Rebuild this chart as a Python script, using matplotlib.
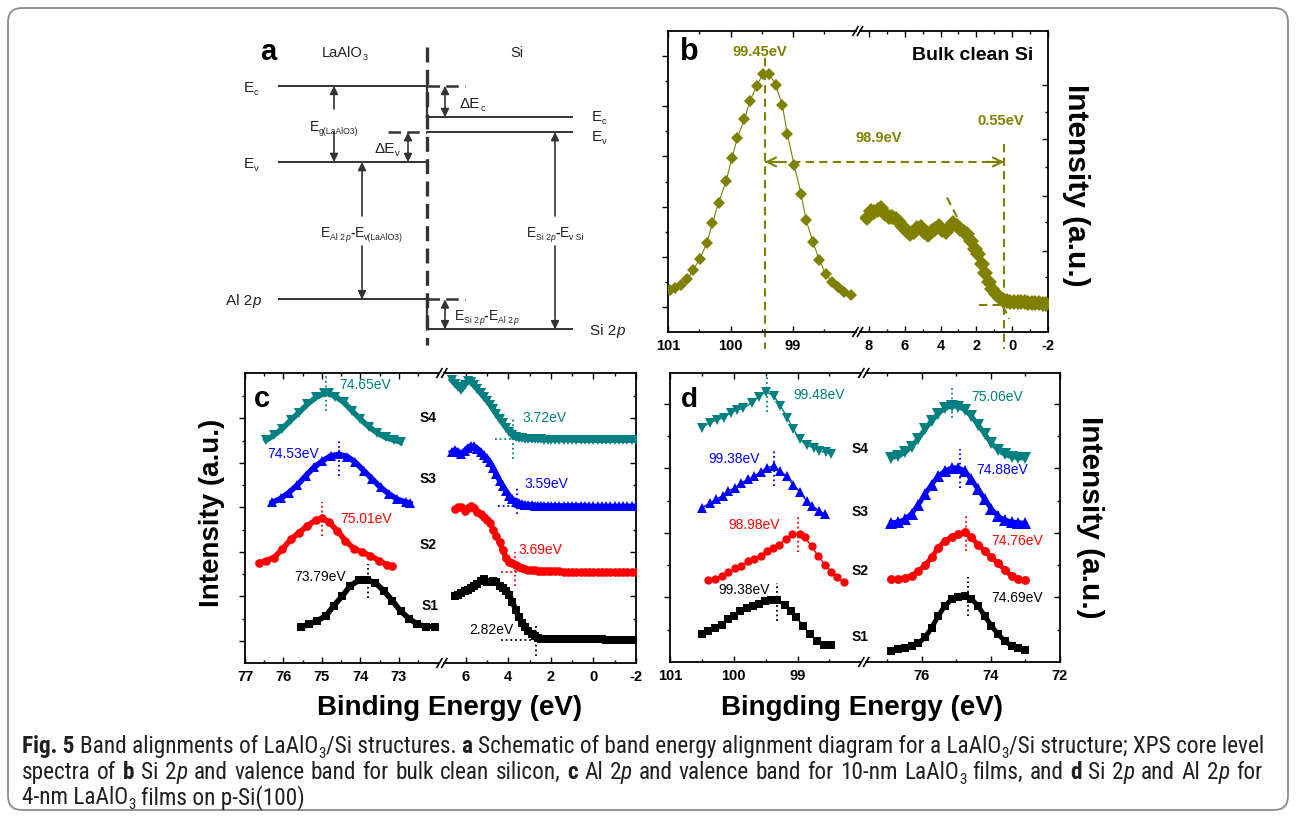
import matplotlib
matplotlib.use('Agg')
import matplotlib.pyplot as plt
from matplotlib.patches import FancyBboxPatch
from matplotlib.font_manager import FontProperties, findfont

W, H, DPI = 1296, 820, 100
plt.rcParams['font.family'] = ['Liberation Sans', 'DejaVu Sans']

# ---------------- samples ----------------
SAMPLES = ['S1', 'S2', 'S3', 'S4']
S_COLORS = ['#000000', '#ff0000', '#0000ff', '#008080']
S_MARKERS = ['s', 'o', '^', 'v']
OLIVE = '#808000'

# ---------------- panel b : bulk clean Si ----------------
B_SI2P_E = [100.97, 100.89, 100.80, 100.69, 100.60, 100.49, 100.38, 100.29, 100.19, 100.07,
            99.98, 99.89, 99.78, 99.69, 99.58, 99.48, 99.38, 99.28, 99.17, 99.09,
            98.98, 98.87, 98.79, 98.68, 98.58, 98.48, 98.37, 98.28, 98.19, 98.08]
B_SI2P_I = [0.83, 0.87, 0.93, 1.05, 1.23, 1.46, 1.77, 2.17, 2.58, 3.01,
            3.46, 3.87, 4.24, 4.60, 4.91, 5.15, 5.15, 4.93, 4.52, 3.94,
            3.32, 2.75, 2.23, 1.79, 1.44, 1.16, 0.99, 0.89, 0.79, 0.73]
B_VB_E = [8.1, 7.9, 7.7, 7.5, 7.3, 7.1, 6.9, 6.7, 6.5, 6.3, 6.1, 5.9, 5.7, 5.5, 5.3, 5.1, 4.9,
          4.7, 4.5, 4.3, 4.1, 3.9, 3.7, 3.5, 3.3, 3.1, 2.9, 2.7, 2.5, 2.3, 2.1, 1.9, 1.7, 1.5,
          1.3, 1.1, 0.9, 0.7, 0.5, 0.3, 0.1, -0.1, -0.3, -0.5, -0.7, -0.9, -1.1, -1.3, -1.5,
          -1.7, -1.9]
B_VB_I = [2.28, 2.42, 2.40, 2.44, 2.47, 2.35, 2.30, 2.30, 2.25, 2.20, 2.10, 2.02, 1.96, 2.00,
          2.07, 2.10, 2.00, 1.93, 2.02, 2.06, 2.12, 2.03, 1.99, 2.10, 2.18, 2.12, 2.06, 2.00,
          1.95, 1.82, 1.66, 1.55, 1.36, 1.17, 1.00, 0.86, 0.76, 0.68, 0.64, 0.61, 0.60, 0.60,
          0.59, 0.60, 0.59, 0.58, 0.58, 0.57, 0.57, 0.56, 0.56]
B_PEAK = 99.45
B_VBM_LINE = 0.45
B_ARROW_I = 3.39
B_BASE_I = 0.54

# ---------------- panel c : 10-nm LaAlO3 (Al 2p + valence band) ----------------
C_AL_E = [
    [75.55, 75.34, 75.12, 74.90, 74.69, 74.47, 74.26, 74.04, 73.82, 73.61, 73.39, 73.17, 72.96, 72.74, 72.52, 72.31, 72.06],
    [76.64, 76.46, 76.25, 76.03, 75.81, 75.60, 75.38, 75.16, 74.99, 74.82, 74.60, 74.39, 74.17, 73.95, 73.74, 73.52, 73.30, 73.17],
    [76.29, 76.07, 75.86, 75.64, 75.42, 75.21, 74.99, 74.77, 74.56, 74.34, 74.13, 73.91, 73.69, 73.48, 73.26, 73.04, 72.83, 72.72],
    [76.45, 76.25, 76.03, 75.81, 75.60, 75.38, 75.16, 74.95, 74.82, 74.65, 74.43, 74.22, 74.00, 73.78, 73.56, 73.35, 73.13, 72.96],
]
C_AL_I = [
    [0.31, 0.37, 0.45, 0.56, 0.79, 1.01, 1.24, 1.36, 1.37, 1.30, 1.12, 0.90, 0.67, 0.50, 0.37, 0.32, 0.31],
    [1.75, 1.80, 1.87, 2.06, 2.28, 2.43, 2.58, 2.72, 2.75, 2.67, 2.47, 2.25, 2.07, 1.99, 1.91, 1.80, 1.70, 1.67],
    [3.11, 3.20, 3.33, 3.50, 3.71, 3.90, 4.04, 4.16, 4.19, 4.14, 4.01, 3.82, 3.63, 3.45, 3.30, 3.18, 3.12, 3.09],
    [4.51, 4.62, 4.77, 4.96, 5.13, 5.32, 5.47, 5.56, 5.56, 5.49, 5.36, 5.17, 4.98, 4.81, 4.67, 4.57, 4.51, 4.47],
]
C_VB_E = [6.65, 6.5, 6.35, 6.2, 6.05, 5.9, 5.75, 5.6, 5.45, 5.3, 5.15, 5.0, 4.85, 4.7, 4.55, 4.4,
          4.25, 4.1, 3.95, 3.8, 3.65, 3.5, 3.35, 3.2, 3.05, 2.9, 2.75, 2.6, 2.45, 2.3, 2.15, 2.0,
          1.8, 1.6, 1.4, 1.2, 1.0, 0.8, 0.6, 0.4, 0.2, 0.0, -0.2, -0.4, -0.6, -0.8, -1.0, -1.2,
          -1.4, -1.6, -1.8, -2.0]
C_VB_I = [
    [1.01, 1.03, 1.07, 1.11, 1.15, 1.18, 1.22, 1.28, 1.35, 1.38, 1.33, 1.31, 1.34, 1.31, 1.24, 1.18,
     1.12, 1.04, 0.88, 0.69, 0.53, 0.41, 0.30, 0.21, 0.15, 0.10, 0.07, 0.05, 0.05, 0.04, 0.04,
     0.04, 0.04, 0.04, 0.04, 0.03, 0.03, 0.03, 0.03, 0.03, 0.03, 0.03, 0.03, 0.02, 0.02, 0.02,
     0.02, 0.02, 0.02, 0.02, 0.02],
    [2.96, 3.01, 3.00, 2.92, 2.99, 3.03, 2.98, 2.89, 2.86, 2.79, 2.72, 2.64, 2.50, 2.35, 2.21, 2.03,
     1.85, 1.77, 1.74, 1.71, 1.66, 1.63, 1.61, 1.60, 1.59, 1.58, 1.57, 1.57, 1.56, 1.56, 1.56,
     1.56, 1.56, 1.55, 1.55, 1.55, 1.55, 1.55, 1.55, 1.55, 1.55, 1.55, 1.55, 1.54, 1.54, 1.54,
     1.54, 1.54, 1.54, 1.54, 1.54],
    [4.24, 4.29, 4.25, 4.19, 4.27, 4.34, 4.38, 4.37, 4.32, 4.25, 4.18, 4.10, 4.01, 3.88, 3.74, 3.60,
     3.48, 3.36, 3.26, 3.18, 3.12, 3.09, 3.08, 3.06, 3.06, 3.05, 3.04, 3.04, 3.04, 3.03, 3.03, 3.03,
     3.03, 3.03, 3.03, 3.03, 3.03, 3.03, 3.03, 3.03, 3.02, 3.02, 3.02, 3.02, 3.02, 3.02, 3.02, 3.02,
     3.02, 3.02, 3.02, 3.02],
    [5.86, 5.78, 5.71, 5.64, 5.75, 5.84, 5.82, 5.74, 5.66, 5.57, 5.49, 5.40, 5.31, 5.20, 5.09, 4.99,
     4.89, 4.79, 4.70, 4.62, 4.57, 4.55, 4.55, 4.54, 4.54, 4.53, 4.53, 4.53, 4.53, 4.52, 4.52, 4.52,
     4.52, 4.52, 4.52, 4.52, 4.52, 4.51, 4.51, 4.51, 4.51, 4.51, 4.51, 4.51, 4.51, 4.51, 4.51, 4.51,
     4.51, 4.51, 4.51, 4.51],
]
C_AL_PEAK = [73.80, 75.01, 74.56, 74.89]
C_AL_PEAK_LABEL = ['73.79eV', '75.01eV', '74.53eV', '74.65eV']
C_VBM = [2.68, 3.70, 3.59, 3.77]
C_VBM_LABEL = ['2.82eV', '3.69eV', '3.59eV', '3.72eV']
C_VB_BASE = [0.02, 1.54, 3.03, 4.53]

# ---------------- panel d : 4-nm LaAlO3 (Si 2p + Al 2p) ----------------
D_SI_E = [
    [100.50, 100.40, 100.30, 100.19, 100.09, 100.00, 99.90, 99.80, 99.70, 99.61, 99.51, 99.42, 99.32, 99.20, 99.11, 99.02, 98.91, 98.81, 98.70, 98.59, 98.48],
    [100.40, 100.30, 100.19, 100.09, 99.98, 99.88, 99.77, 99.68, 99.58, 99.48, 99.38, 99.29, 99.18, 99.08, 98.97, 98.89, 98.78, 98.68, 98.57, 98.47, 98.38, 98.28],
    [100.50, 100.38, 100.28, 100.17, 100.09, 99.98, 99.88, 99.77, 99.68, 99.58, 99.48, 99.37, 99.28, 99.17, 99.07, 98.96, 98.86, 98.77, 98.66, 98.57],
    [100.50, 100.38, 100.27, 100.16, 100.05, 99.95, 99.85, 99.72, 99.61, 99.49, 99.37, 99.27, 99.16, 99.07, 98.96, 98.86, 98.75, 98.66, 98.56, 98.47],
]
D_SI_I = [
    [0.43, 0.48, 0.52, 0.58, 0.66, 0.72, 0.79, 0.83, 0.87, 0.90, 0.94, 0.96, 0.96, 0.88, 0.79, 0.69, 0.56, 0.43, 0.33, 0.27, 0.26],
    [1.27, 1.29, 1.34, 1.39, 1.45, 1.49, 1.56, 1.60, 1.65, 1.72, 1.76, 1.82, 1.91, 1.98, 1.99, 1.93, 1.80, 1.64, 1.51, 1.40, 1.31, 1.24],
    [2.39, 2.46, 2.52, 2.58, 2.65, 2.70, 2.78, 2.83, 2.88, 2.95, 3.01, 3.04, 2.96, 2.88, 2.75, 2.63, 2.50, 2.42, 2.34, 2.29],
    [3.63, 3.71, 3.75, 3.79, 3.86, 3.91, 3.93, 4.02, 4.11, 4.19, 4.12, 3.97, 3.79, 3.61, 3.45, 3.36, 3.32, 3.27, 3.25, 3.22],
]
D_AL_E = [76.87, 76.67, 76.48, 76.29, 76.10, 75.90, 75.71, 75.52, 75.33, 75.13, 74.94, 74.75,
          74.56, 74.37, 74.17, 73.98, 73.79, 73.60, 73.40, 73.21, 73.02]
D_AL_I = [
    [0.17, 0.20, 0.22, 0.25, 0.29, 0.38, 0.53, 0.71, 0.87, 0.97, 1.01, 1.02, 0.98, 0.87, 0.71, 0.56, 0.43, 0.33, 0.25, 0.21, 0.19],
    [1.28, 1.28, 1.30, 1.34, 1.41, 1.50, 1.62, 1.77, 1.88, 1.94, 1.98, 2.01, 1.93, 1.82, 1.72, 1.62, 1.53, 1.43, 1.33, 1.29, 1.27],
    [2.16, 2.17, 2.21, 2.30, 2.43, 2.60, 2.75, 2.88, 2.96, 3.01, 3.01, 2.96, 2.83, 2.68, 2.52, 2.37, 2.26, 2.20, 2.17, 2.16, 2.15],
    [3.17, 3.19, 3.25, 3.34, 3.46, 3.61, 3.74, 3.85, 3.93, 3.97, 3.96, 3.91, 3.81, 3.68, 3.53, 3.39, 3.29, 3.22, 3.18, 3.17, 3.16],
]
D_SI_PEAK = [99.32, 99.00, 99.37, 99.48]
D_SI_LABEL = ['99.38eV', '98.98eV', '99.38eV', '99.48eV']
D_AL_PEAK = [74.65, 74.73, 74.89, 75.11]
D_AL_LABEL = ['74.69eV', '74.76eV', '74.88eV', '75.06eV']

# ---------------- panel a : schematic levels (eV, schematic scale) ----------------
LAO_EC, LAO_EV, AL2P = 5.6, 0.0, -10.1
SI_EC, SI_EV, SI2P = 3.3, 2.2, -12.3

# ---------------- figure ----------------
fig = plt.figure(figsize=(W / DPI, H / DPI), dpi=DPI)
renderer = fig.canvas.get_renderer()


def px_axes(x0, y0, x1, y1, zorder=0):
    return fig.add_axes([x0 / W, 1 - y1 / H, (x1 - x0) / W, (y1 - y0) / H], zorder=zorder)


bg = px_axes(0, 0, W, H, zorder=-5)
bg.set_xlim(0, W); bg.set_ylim(H, 0); bg.axis('off')
ov = px_axes(0, 0, W, H, zorder=20)
ov.set_xlim(0, W); ov.set_ylim(H, 0); ov.axis('off')

bg.add_patch(FancyBboxPatch((8, 9), 1280, 802, boxstyle='round,pad=0,rounding_size=14',
                            fc='white', ec='#8a8a8a', lw=1.3))


def have_font(name):
    try:
        findfont(FontProperties(family=name), fallback_to_default=False)
        return True
    except Exception:
        return False


def tw(s, fp):
    if not s:
        return 0.0
    w1 = renderer.get_text_width_height_descent('a' + s + 'a', fp, ismath=False)[0]
    w0 = renderer.get_text_width_height_descent('aa', fp, ismath=False)[0]
    return w1 - w0


def rich(ax, x, y, segs, size, family, color, ha='left', draw=True, sub_scale=0.62,
         sub_drop=0.22, justify=None):
    def layout(extra):
        parts = []
        pos = 0.0
        nsp = 0
        for s, kind in segs:
            sub = 's' in kind
            fp = FontProperties(family=family, size=size * (sub_scale if sub else 1.0),
                                weight='bold' if 'b' in kind else 'normal',
                                style='italic' if 'i' in kind else 'normal')
            lead = len(s) - len(s.lstrip(' '))
            trail = len(s) - len(s.rstrip(' '))
            core = s.strip(' ')
            sp = tw(' ', fp) + extra
            inner = core.count(' ')
            nsp += lead + trail + inner
            pos += lead * sp
            parts.append((core, fp, pos, sub))
            pos += tw(core, fp) + inner * extra + trail * sp
        return parts, pos, nsp

    parts, pos, nsp = layout(0.0)
    if justify is not None and nsp > 0:
        extra = (justify - pos) / nsp
        parts, pos, nsp = layout(extra)
    else:
        extra = 0.0
    if not draw:
        return pos
    x0 = x - pos / 2 if ha == 'center' else (x - pos if ha == 'right' else x)
    for core, fp, off, sub in parts:
        dy = size * sub_drop * DPI / 72 if sub else 0
        if extra != 0.0 and ' ' in core:
            cx = x0 + off
            words = core.split(' ')
            for wi, wd in enumerate(words):
                ax.text(cx, y + dy, wd, fontproperties=fp, color=color, ha='left', va='baseline')
                cx += tw(wd, fp) + tw(' ', fp) + extra
        else:
            ax.text(x0 + off, y + dy, core, fontproperties=fp, color=color, ha='left', va='baseline')
    return pos


# ---------------- panel a ----------------
SCH_EV0 = 163.0
SCH_PX = 13.6


def e2py(e):
    return SCH_EV0 - e * SCH_PX


axa = px_axes(200, 30, 620, 350)
axa.set_xlim(200, 620)
axa.set_ylim((SCH_EV0 - 350) / SCH_PX, (SCH_EV0 - 30) / SCH_PX)
axa.axis('off')
LC = '#333333'
XL0, XIF, XR1, XSR, XSL = 278, 427, 573, 465, 388
for e in (LAO_EC, LAO_EV, AL2P):
    axa.plot([XL0, XIF], [e, e], color=LC, lw=1.4, solid_capstyle='butt')
for e in (SI_EC, SI_EV, SI2P):
    axa.plot([XIF, XR1], [e, e], color=LC, lw=1.4, solid_capstyle='butt')
for e in (LAO_EC, AL2P):
    axa.plot([XIF, XSR], [e, e], color=LC, lw=1.8, ls=(0, (5, 2.5)))
axa.plot([XSL, XIF], [SI_EV, SI_EV], color=LC, lw=1.8, ls=(0, (5, 2.5)))
axa.plot([XIF, XIF], [LAO_EC, SI_EC], color=LC, lw=1.6)
axa.plot([XIF, XIF], [AL2P, SI2P], color=LC, lw=1.6)
axa.plot([XIF, XIF], [(SCH_EV0 - 48) / SCH_PX, (SCH_EV0 - 346) / SCH_PX], color=LC, lw=2.4,
         ls=(0, (4.5, 2.2)))


def sch_arrow(x, e0, e1, style='-|>'):
    axa.annotate('', xy=(x, e1), xytext=(x, e0),
                 arrowprops=dict(arrowstyle=style, color=LC, lw=1.2, mutation_scale=12,
                                 shrinkA=0, shrinkB=0))


E_UP0 = (SCH_EV0 - 217) / SCH_PX
E_DN0 = (SCH_EV0 - 247) / SCH_PX
sch_arrow(334, 3.9, LAO_EC)
sch_arrow(334, 2.2, LAO_EV)
sch_arrow(445, SI_EC, LAO_EC, '<|-|>')
sch_arrow(408, LAO_EV, SI_EV, '<|-|>')
sch_arrow(362, E_UP0, LAO_EV)
sch_arrow(362, E_DN0, AL2P)
sch_arrow(555, E_UP0, SI_EV)
sch_arrow(555, E_DN0, SI2P)
sch_arrow(445, SI2P, AL2P, '<|-|>')

SF = 'Liberation Sans'
TC = '#222222'
ov.text(268, 60, 'a', fontsize=21, fontweight='bold', ha='center', va='baseline')
rich(ov, 345, 57, [('LaAlO', 'n'), ('3', 's')], 10.5, SF, TC, ha='center')
rich(ov, 517, 57, [('Si', 'n')], 10.5, SF, TC, ha='center')
rich(ov, 251, e2py(LAO_EC) + 5, [('E', 'n'), ('c', 's')], 11, SF, TC, ha='center')
rich(ov, 251, e2py(LAO_EV) + 5, [('E', 'n'), ('v', 's')], 11, SF, TC, ha='center')
rich(ov, 243, e2py(AL2P) + 5, [('Al 2', 'n'), ('p', 'i')], 11, SF, TC, ha='center')
rich(ov, 590, e2py(SI2P) + 5, [('Si 2', 'n'), ('p', 'i')], 11, SF, TC)
rich(ov, 592, e2py(SI_EC) + 3, [('E', 'n'), ('c', 's')], 11, SF, TC)
rich(ov, 592, e2py(SI_EV) + 8, [('E', 'n'), ('v', 's')], 11, SF, TC)
rich(ov, 334, 131, [('E', 'n'), ('g(LaAlO3)', 's')], 10, SF, TC, ha='center')
rich(ov, 460, 108, [('\u0394E', 'n'), ('c', 's')], 11, SF, TC)
rich(ov, 400, 153, [('\u0394E', 'n'), ('v', 's')], 11, SF, TC, ha='right')
rich(ov, 362, 237, [('E', 'n'), ('Al 2', 's'), ('p', 'si'), ('-', 'b'), ('E', 'n'), ('v(LaAlO3)', 's')],
     10, SF, TC, ha='center')
rich(ov, 555, 237, [('E', 'n'), ('Si 2', 's'), ('p', 'si'), ('-', 'b'), ('E', 'n'), ('v Si', 's')],
     10, SF, TC, ha='center')
rich(ov, 455, 320, [('E', 'n'), ('Si 2', 's'), ('p', 'si'), ('-', 'b'), ('E', 'n'), ('Al 2', 's'), ('p', 'si')],
     10, SF, TC)

TICK_FP = FontProperties(family='Liberation Sans', weight='bold', size=10.5)


# ---------------- broken-axis helpers ----------------
def setup_pair(axL, axR, xlimL, xlimR, ylim, xtL, xmL, xtR, xmR, ytL, ymL, ytR, ymR):
    for ax, xl, xt, xm in ((axL, xlimL, xtL, xmL), (axR, xlimR, xtR, xmR)):
        ax.patch.set_visible(False)
        ax.set_xlim(*xl)
        ax.set_ylim(*ylim)
        ax.set_xticks(xt)
        ax.set_xticks(xm, minor=True)
        ax.tick_params(axis='x', which='both', direction='in', top=True, bottom=True,
                       width=1.0, labelbottom=False)
        ax.tick_params(axis='x', which='major', length=4)
        ax.tick_params(axis='x', which='minor', length=2.2)
        for v in xt:
            ax.annotate(str(v), xy=(v, 0), xycoords=('data', 'axes fraction'),
                        xytext=(0, -4.5), textcoords='offset points', ha='center', va='top',
                        fontproperties=TICK_FP, color='black', annotation_clip=False)
        for sp in ax.spines.values():
            sp.set_linewidth(1.3)
    axL.spines['right'].set_visible(False)
    axR.spines['left'].set_visible(False)
    axL.set_yticks(ytL)
    axL.set_yticks(ymL, minor=True)
    axL.tick_params(axis='y', which='both', direction='out', left=True, right=False,
                    labelleft=False, width=1.0)
    axL.tick_params(axis='y', which='major', length=4)
    axL.tick_params(axis='y', which='minor', length=2.2)
    axR.set_yticks(ytR)
    axR.set_yticks(ymR, minor=True)
    axR.tick_params(axis='y', which='both', direction='in', left=False, right=True,
                    labelleft=False, labelright=False, width=1.0)
    axR.tick_params(axis='y', which='major', length=4)
    axR.tick_params(axis='y', which='minor', length=2.2)


def break_marks(xl, xr, ys):
    for y in ys:
        for x in (xl, xr):
            ov.plot([x - 3, x + 3], [y + 5, y - 5], color='black', lw=1.2, solid_capstyle='butt')


# ---------------- panel b ----------------
axbL = px_axes(668, 32, 855.5, 333)
axbR = px_axes(860, 32, 1048, 333)
setup_pair(axbL, axbR, (101, 98.0), (8.5, -2.0), (0, 6.0),
           [101, 100, 99], [100.5, 99.5, 98.5], [8, 6, 4, 2, 0, -2], [7, 5, 3, 1, -1],
           [0.5, 1.5, 2.5, 3.5, 4.5, 5.5], [1, 2, 3, 4, 5],
           [0.52, 1.62, 2.71, 3.84, 4.93], [1.10, 2.19, 3.29, 4.38])
break_marks(855.5, 860, [32, 333])
axbL.plot(B_SI2P_E, B_SI2P_I, color=OLIVE, lw=0.8, marker='D', ms=6, mew=0, zorder=3)
axbR.plot(B_VB_E, B_VB_I, color=OLIVE, lw=3.5, marker='D', ms=8, mew=0, zorder=3)
DASH = (0, (4, 2.5))
axbL.plot([B_PEAK, B_PEAK], [5.46, -0.33], color=OLIVE, lw=1.5, ls=DASH, clip_on=False, zorder=2)
axbR.plot([B_VBM_LINE, B_VBM_LINE], [3.74, -0.33], color=OLIVE, lw=1.5, ls=DASH, clip_on=False, zorder=2)
axbL.plot([B_PEAK, 97.9], [B_ARROW_I, B_ARROW_I], color=OLIVE, lw=1.5, ls=DASH, clip_on=False, zorder=2)
axbR.plot([8.5, B_VBM_LINE], [B_ARROW_I, B_ARROW_I], color=OLIVE, lw=1.5, ls=DASH, clip_on=False, zorder=2)
axbL.annotate('', xy=(B_PEAK, B_ARROW_I), xytext=(B_PEAK - 0.25, B_ARROW_I),
              arrowprops=dict(arrowstyle='->', color=OLIVE, lw=1.5, mutation_scale=16, shrinkA=0, shrinkB=0))
axbR.annotate('', xy=(B_VBM_LINE, B_ARROW_I), xytext=(B_VBM_LINE + 1.0, B_ARROW_I),
              arrowprops=dict(arrowstyle='->', color=OLIVE, lw=1.5, mutation_scale=16, shrinkA=0, shrinkB=0))
axbR.plot([1.83, 0.35], [B_BASE_I, B_BASE_I], color=OLIVE, lw=1.5, ls=DASH, zorder=2)
axbR.plot([3.64, 0.15], [2.68, 0.26], color=OLIVE, lw=1.5, ls=DASH, zorder=2)
axbL.text(99.53, 5.6, '99.45eV', color=OLIVE, fontsize=10.5, fontweight='bold', ha='center', va='center')
axbR.text(7.44, 3.89, '98.9eV', color=OLIVE, fontsize=10.5, fontweight='bold', ha='center', va='center')
axbR.text(0.62, 4.23, '0.55eV', color=OLIVE, fontsize=10.5, fontweight='bold', ha='center', va='center')
axbR.text(2.21, 5.53, 'Bulk clean Si', color='black', fontsize=14, fontweight='bold', ha='center', va='center')
ov.text(689, 60, 'b', fontsize=22, fontweight='bold', ha='center', va='baseline')
ov.text(1076, 185, 'Intensity (a.u.)', fontsize=21.5, fontweight='bold', rotation=270,
        ha='center', va='center')

# ---------------- panel c ----------------
axcL = px_axes(245, 374, 439.4, 664)
axcR = px_axes(444.3, 374, 636, 664)
setup_pair(axcL, axcR, (77, 71.95), (7.0, -2.0), (-0.5, 6.02),
           [77, 76, 75, 74, 73], [76.5, 75.5, 74.5, 73.5, 72.5], [6, 4, 2, 0, -2], [5, 3, 1, -1],
           [0, 1, 2, 3, 4, 5], [0.5, 1.5, 2.5, 3.5, 4.5, 5.5],
           [0, 1, 2, 3, 4, 5], [0.5, 1.5, 2.5, 3.5, 4.5, 5.5])
break_marks(439.4, 444.3, [374, 664])
C_MS = [5.6, 6.2, 7.6, 7.6]
DOT = (0, (1, 1.6))
for k in range(4):
    col, mk = S_COLORS[k], S_MARKERS[k]
    axcL.plot(C_AL_E[k], C_AL_I[k], color=col, marker=mk, ms=C_MS[k], mew=0, lw=4.0, zorder=3)
    ve = C_VB_E if k >= 2 else C_VB_E[1:]
    axcR.plot(ve, C_VB_I[k], color=col, marker=mk, ms=C_MS[k], mew=0, lw=4.0, zorder=3)
C_AL_VSPAN = [(0.97, 1.72), (2.36, 3.11), (3.71, 4.53), (5.17, 5.99)]
C_AL_TXT_POS = [(75.73, 1.46), (74.52, 2.75), (76.42, 4.23), (74.56, 5.77)]
C_VB_VSPAN = [(-0.34, 0.37), (1.24, 1.99), (2.85, 3.45), (4.08, 4.98)]
C_VB_HSPAN = [(4.32, 2.52), (4.32, 3.46), (4.48, 3.38), (4.64, 3.54)]
C_VB_TXT_POS = [(5.84, 0.26), (3.54, 2.06), (3.23, 3.54), (3.34, 5.02)]
C_S_POS = [(72.18, 0.80), (72.24, 2.17), (72.24, 3.65), (72.24, 5.04)]
for k in range(4):
    col = S_COLORS[k]
    axcL.plot([C_AL_PEAK[k]] * 2, C_AL_VSPAN[k], color=col, lw=1.3, ls=DOT, zorder=4)
    axcL.text(*C_AL_TXT_POS[k], C_AL_PEAK_LABEL[k], color=col, fontsize=10, ha='left', va='center')
    axcR.plot([C_VBM[k]] * 2, C_VB_VSPAN[k], color=col, lw=1.3, ls=DOT, zorder=4, clip_on=False)
    axcR.plot(C_VB_HSPAN[k], [C_VB_BASE[k]] * 2, color=col, lw=1.3, ls=DOT, zorder=4)
    axcR.text(*C_VB_TXT_POS[k], C_VBM_LABEL[k], color=col, fontsize=10, ha='left', va='center')
    axcL.text(*C_S_POS[k], SAMPLES[k], color='black', fontsize=10, fontweight='bold',
              ha='center', va='center', clip_on=False)
ov.text(262, 407, 'c', fontsize=21, fontweight='bold', ha='center', va='baseline')
ov.text(212, 513, 'Intensity (a.u.)', fontsize=20, fontweight='bold', rotation=90,
        ha='center', va='center')
ov.text(450, 708, 'Binding Energy (eV)', fontsize=20, fontweight='bold', ha='center', va='center')

# ---------------- panel d ----------------
axdL = px_axes(670, 374, 861.4, 663)
axdR = px_axes(866.2, 374, 1060, 663)
setup_pair(axdL, axdR, (101, 98.0), (77.6, 72.0), (0, 4.48),
           [101, 100, 99], [100.5, 99.5, 98.5], [76, 74, 72], [77, 75, 73],
           [1, 2, 3, 4], [0.5, 1.5, 2.5, 3.5], [1, 2, 3, 4], [0.5, 1.5, 2.5, 3.5])
break_marks(861.4, 866.2, [374, 663])
D_MS_L = [5.6, 6.0, 7.2, 7.2]
D_MS_R = [5.8, 6.4, 8.0, 8.0]
for k in range(4):
    col, mk = S_COLORS[k], S_MARKERS[k]
    axdL.plot(D_SI_E[k], D_SI_I[k], color=col, marker=mk, ms=D_MS_L[k], mew=0, lw=1.0, zorder=3)
    axdR.plot(D_AL_E, D_AL_I[k], color=col, marker=mk, ms=D_MS_R[k], mew=0, lw=3.5, zorder=3)
D_SI_VSPAN = [(0.64, 1.23), (1.70, 2.26), (2.73, 3.30), (3.87, 4.43)]
D_SI_TXT_POS = [(100.24, 1.13), (100.09, 2.14), (100.40, 3.17), (99.07, 4.15)]
D_AL_VSPAN = [(0.71, 1.31), (1.72, 2.26), (2.70, 3.30), (3.79, 4.28)]
D_AL_TXT_POS = [(74.0, 1.01), (73.98, 1.89), (74.41, 2.99), (74.56, 4.13)]
D_S_POS = [(98.02, 0.40), (98.02, 1.43), (98.02, 2.34), (98.02, 3.31)]
for k in range(4):
    col = S_COLORS[k]
    axdL.plot([D_SI_PEAK[k]] * 2, D_SI_VSPAN[k], color=col, lw=1.3, ls=DOT, zorder=4)
    axdL.text(*D_SI_TXT_POS[k], D_SI_LABEL[k], color=col, fontsize=10, ha='left', va='center')
    axdR.plot([D_AL_PEAK[k]] * 2, D_AL_VSPAN[k], color=col, lw=1.3, ls=DOT, zorder=4)
    axdR.text(*D_AL_TXT_POS[k], D_AL_LABEL[k], color=col, fontsize=10, ha='left', va='center')
    axdL.text(*D_S_POS[k], SAMPLES[k], color='black', fontsize=10, fontweight='bold',
              ha='center', va='center', clip_on=False, zorder=10)
ov.text(689, 407, 'd', fontsize=20, fontweight='bold', ha='center', va='baseline')
ov.text(1090, 517, 'Intensity (a.u.)', fontsize=21.5, fontweight='bold', rotation=270,
        ha='center', va='center')
ov.text(862, 708, 'Bingding Energy (eV)', fontsize=20, fontweight='bold', ha='center', va='center')

# ---------------- caption ----------------
CAP_FAMILY = 'Liberation Sans'
for cand in ['Liberation Sans Narrow', 'Roboto Condensed', 'Open Sans Condensed', 'Noto Sans Condensed']:
    if have_font(cand):
        CAP_FAMILY = cand
        break
CAP1 = [('Fig. 5', 'b'), (' Band alignments of LaAlO', 'n'), ('3', 's'), ('/Si structures. ', 'n'),
        ('a', 'b'), (' Schematic of band energy alignment diagram for a LaAlO', 'n'), ('3', 's'),
        ('/Si structure; XPS core level', 'n')]
CAP2 = [('spectra of ', 'n'), ('b', 'b'), (' Si 2', 'n'), ('p', 'i'),
        (' and valence band for bulk clean silicon, ', 'n'), ('c', 'b'), (' Al 2', 'n'), ('p', 'i'),
        (' and valence band for 10-nm LaAlO', 'n'), ('3', 's'), (' films, and ', 'n'), ('d', 'b'),
        (' Si 2', 'n'), ('p', 'i'), (' and Al 2', 'n'), ('p', 'i'), (' for', 'n')]
CAP3 = [('4-nm LaAlO', 'n'), ('3', 's'), (' films on p-Si(100)', 'n')]
w12 = rich(ov, 0, 0, CAP1, 12, CAP_FAMILY, 'k', draw=False)
cap_size = 12 * 1243.0 / w12
CAP_COLOR = '#231f20'
rich(ov, 22, 753, CAP1, cap_size, CAP_FAMILY, CAP_COLOR, sub_scale=0.65, sub_drop=0.2)
rich(ov, 22, 779, CAP2, cap_size, CAP_FAMILY, CAP_COLOR, sub_scale=0.65, sub_drop=0.2, justify=1240.0)
rich(ov, 22, 804, CAP3, cap_size, CAP_FAMILY, CAP_COLOR, sub_scale=0.65, sub_drop=0.2)

fig.savefig('out.png', dpi=DPI)
